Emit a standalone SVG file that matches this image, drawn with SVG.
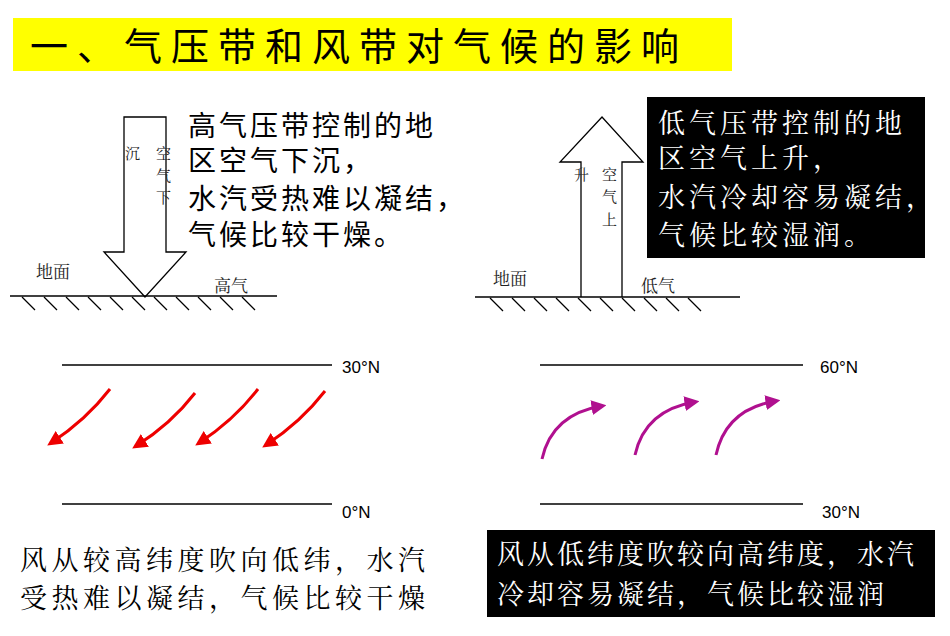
<svg xmlns="http://www.w3.org/2000/svg" width="950" height="636" viewBox="0 0 950 636">
<style>
.cjk{font-family:"Noto Sans CJK SC","Liberation Sans",sans-serif}
.serif{font-family:"Noto Serif CJK SC","Noto Sans CJK SC",serif;font-size:17px;fill:#222}
.sm{font-family:"Noto Serif CJK SC","Noto Sans CJK SC",serif;font-size:15px;fill:#222}
.ln{stroke:#000;stroke-width:1.3;fill:none}
.lat{font-family:"Liberation Sans",sans-serif;font-size:17px}
</style>
<defs>
<marker id="ar" markerWidth="5" markerHeight="5" refX="3.5" refY="2.5" orient="auto" markerUnits="strokeWidth"><path d="M0,0L5,2.5L0,5z" fill="#e00"/></marker>
<marker id="ap" markerWidth="5" markerHeight="5" refX="3.5" refY="2.5" orient="auto" markerUnits="strokeWidth"><path d="M0,0L5,2.5L0,5z" fill="#b0108f"/></marker>
</defs>
<g id="title"><rect x="13" y="18" width="719" height="53" fill="#ffff00"/><text x="30" y="60" class="cjk" font-size="38" letter-spacing="9">一、气压带和风带对气候的影响</text></g>
<g id="high">
<path class="ln" d="M124,117H166V252H186L145,297L104,252H124Z" fill="#fff"/>
<line class="ln" x1="10" y1="296" x2="277" y2="296"/>
<path class="ln" d="M22,297l13,13M44,297l13,13M66,297l13,13M88,297l13,13M110,297l13,13M132,297l13,13M154,297l13,13M176,297l13,13M198,297l13,13M220,297l13,13M242,297l13,13"/>
<text class="sm" x="125" y="159">沉</text><text class="sm" x="156" y="159">空</text><text class="sm" x="156" y="181">气</text><text class="sm" x="156" y="203">下</text>
<text class="serif" x="36" y="278">地面</text><text class="serif" x="214" y="292">高气</text>
<g class="cjk" font-size="28" letter-spacing="3"><text x="188" y="136">高气压带控制的地</text>
<text x="188" y="171">区空气下沉，</text>
<text x="188" y="209">水汽受热难以凝结，</text>
<text x="188" y="245">气候比较干燥。</text></g>
</g>
<g id="low">
<path class="ln" d="M581,297V162H560L602,117L643,162H622V297" fill="#fff"/>
<line class="ln" x1="475" y1="297" x2="740" y2="297"/>
<path class="ln" d="M490,298l13,13M512,298l13,13M534,298l13,13M556,298l13,13M578,298l13,13M600,298l13,13M622,298l13,13M644,298l13,13M666,298l13,13M688,298l13,13"/>
<text class="sm" x="574" y="180">升</text><text class="sm" x="602" y="180">空</text><text class="sm" x="602" y="202">气</text><text class="sm" x="602" y="225">上</text>
<text class="serif" x="493" y="285">地面</text><text class="serif" x="641" y="292">低气</text>
<rect x="647" y="97" width="278" height="161" fill="#000"/>
<g class="serif" style="fill:#fff;font-size:27px" letter-spacing="4"><text x="658" y="133">低气压带控制的地</text><text x="658" y="168">区空气上升，</text><text x="658" y="207">水汽冷却容易凝结，</text><text x="658" y="245">气候比较湿润。</text></g>
</g>
<g id="lat">
<line class="ln" x1="62" y1="365" x2="332" y2="365"/><text class="lat" x="342" y="373">30°N</text>
<line class="ln" x1="62" y1="504" x2="332" y2="504"/><text class="lat" x="342" y="518">0°N</text>
<line class="ln" x1="540" y1="365" x2="803" y2="365"/><text class="lat" x="820" y="373">60°N</text>
<line class="ln" x1="540" y1="504" x2="803" y2="504"/><text class="lat" x="822" y="518">30°N</text>
</g>
<g id="connectors" fill="none" stroke-width="3">
<g stroke="#e00" marker-end="url(#ar)">
<path d="M110,389Q86,420 51,443"/><path d="M195,393Q171,424 136,446"/><path d="M258,389Q234,420 199,443"/><path d="M325,391Q301,422 266,445"/>
</g>
<g stroke="#b0108f" marker-end="url(#ap)">
<path d="M542,459Q552,414 602,406"/><path d="M635,455Q645,410 695,402"/><path d="M716,455Q726,409 776,401"/>
</g>
</g>
<g id="bottom">
<text class="serif" style="font-size:27px;fill:#000" x="20" y="570" letter-spacing="4.5">风从较高纬度吹向低纬，水汽</text>
<text class="serif" style="font-size:27px;fill:#000" x="20" y="608" letter-spacing="4.5">受热难以凝结，气候比较干燥</text>
<rect x="487" y="530" width="448" height="87" fill="#000"/>
<text class="serif" style="font-size:27px;fill:#fff" x="497" y="564" letter-spacing="3">风从低纬度吹较向高纬度，水汽</text>
<text class="serif" style="font-size:27px;fill:#fff" x="497" y="604" letter-spacing="3">冷却容易凝结，气候比较湿润</text>
</g>
</svg>
